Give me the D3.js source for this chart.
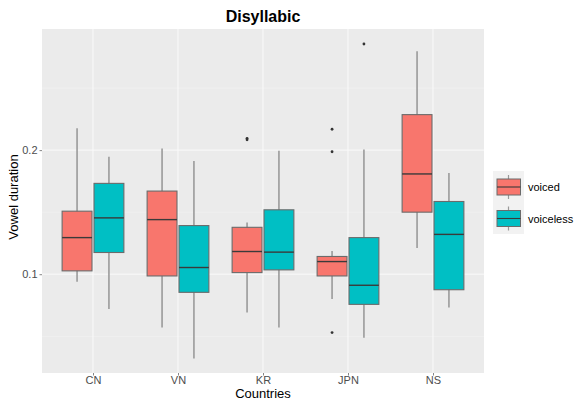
<!DOCTYPE html>
<html>
<head>
<meta charset="utf-8">
<script src="https://cdn.jsdelivr.net/npm/d3@7"></script>
<style>
  body { margin: 0; background: #fff; }
  text { font-family: "Liberation Sans", Arial, sans-serif; }
</style>
</head>
<body>
<div class="chart"></div>
<script>
// categories and groups
var countries = ["CN", "VN", "KR", "JPN", "NS"];
var groups = ["voiced", "voiceless"];
var colors = ["#F8766D", "#00BFC4"];

// box stats per country: [whiskerLow, q1, median, q3, whiskerHigh]
var voicedStats = [
  [0.094, 0.1027, 0.1295, 0.1508, 0.2176],
  [0.057, 0.0986, 0.144, 0.167, 0.2013],
  [0.0692, 0.1013, 0.1183, 0.1378, 0.1416],
  [0.080, 0.0986, 0.1102, 0.1143, 0.1187],
  [0.1211, 0.150, 0.1808, 0.2286, 0.2797]
];
var voicelessStats = [
  [0.0719, 0.1175, 0.1454, 0.1732, 0.1946],
  [0.0321, 0.0854, 0.1054, 0.1392, 0.1913],
  [0.057, 0.1035, 0.1178, 0.1519, 0.1995],
  [0.0489, 0.0757, 0.0911, 0.1295, 0.2005],
  [0.0732, 0.0875, 0.1321, 0.1586, 0.1816]
];
// outliers: [country, group, value]
var outliers = [
  ["KR", "voiced", 0.2095],
  ["KR", "voiced", 0.2083],
  ["JPN", "voiced", 0.2168],
  ["JPN", "voiced", 0.1987],
  ["JPN", "voiced", 0.053],
  ["JPN", "voiceless", 0.2855]
];
var yTicks = [0.1, 0.2];
var yMinor = [0.05, 0.15, 0.25];

var svgWidth = 574, svgHeight = 399;
var margin = { top: 29, left: 42, right: 90, bottom: 26 };
var width = svgWidth - margin.left - margin.right;   // 442
var height = svgHeight - margin.top - margin.bottom; // 344

var svg = d3.select(".chart").append("svg")
  .attr("width", svgWidth)
  .attr("height", svgHeight);

var chartGroup = svg.append("g")
  .attr("transform", `translate(${margin.left}, ${margin.top})`);

// ggplot discrete expand: 0.6 units on each side
var x = d3.scalePoint()
  .domain(countries)
  .range([0, width])
  .padding(0.6);
var unit = x.step();
var xc = function(c) { return x(c); };

var y = d3.scaleLinear()
  .domain([0.0204, 0.2976])
  .range([height, 0]);

// panel background
chartGroup.append("rect")
  .attr("width", width)
  .attr("height", height)
  .attr("fill", "#EBEBEB");

// minor grid
chartGroup.selectAll(".minor")
  .data(yMinor)
  .enter()
  .append("line")
  .attr("x1", 0).attr("x2", width)
  .attr("y1", d => y(d)).attr("y2", d => y(d))
  .attr("stroke", "#F3F3F3")
  .attr("stroke-width", 0.6);

// major grid
chartGroup.selectAll(".major")
  .data(yTicks)
  .enter()
  .append("line")
  .attr("x1", 0).attr("x2", width)
  .attr("y1", d => y(d)).attr("y2", d => y(d))
  .attr("stroke", "#fafafa")
  .attr("stroke-width", 1);

chartGroup.selectAll(".vgrid")
  .data(countries)
  .enter()
  .append("line")
  .attr("x1", d => xc(d)).attr("x2", d => xc(d))
  .attr("y1", 0).attr("y2", height)
  .attr("stroke", "#fafafa")
  .attr("stroke-width", 1);

// boxes
var boxW = unit * 0.75 / 2;
var allStats = [voicedStats, voicelessStats];
var boxData = [];
groups.forEach(function(g, gi) {
  countries.forEach(function(c, ci) {
    var s = allStats[gi][ci];
    boxData.push({ country: c, group: gi, lo: s[0], q1: s[1], med: s[2], q3: s[3], hi: s[4] });
  });
});
var cx = function(d) { return xc(d.country) + (d.group === 0 ? -boxW / 2 : boxW / 2); };

var boxes = chartGroup.selectAll(".box")
  .data(boxData)
  .enter()
  .append("g");

boxes.append("line")
  .attr("x1", cx).attr("x2", cx)
  .attr("y1", d => y(d.hi)).attr("y2", d => y(d.lo))
  .attr("stroke", "#9a9a9a")
  .attr("stroke-width", 1.6);

boxes.append("rect")
  .attr("x", d => cx(d) - boxW / 2 + 1)
  .attr("width", boxW - 2)
  .attr("y", d => y(d.q3))
  .attr("height", d => y(d.q1) - y(d.q3))
  .attr("fill", d => colors[d.group])
  .attr("stroke", "#6b6b6b")
  .attr("stroke-width", 1.1);

boxes.append("line")
  .attr("x1", d => cx(d) - boxW / 2 + 1)
  .attr("x2", d => cx(d) + boxW / 2 - 1)
  .attr("y1", d => y(d.med)).attr("y2", d => y(d.med))
  .attr("stroke", "#3a3a3a")
  .attr("stroke-width", 1.4);

// outliers
chartGroup.selectAll(".out")
  .data(outliers)
  .enter()
  .append("circle")
  .attr("cx", d => xc(d[0]) + (d[1] === "voiced" ? -boxW / 2 : boxW / 2))
  .attr("cy", d => y(d[2]))
  .attr("r", 1.4)
  .attr("fill", "#333");

// axes
var xAxis = d3.axisBottom(x).tickSize(2.5);
var yAxis = d3.axisLeft(y).tickValues(yTicks).tickFormat(d3.format(".1f"))
  .tickSize(2.5).tickPadding(2);

var gx = chartGroup.append("g")
  .attr("transform", `translate(0, ${height})`)
  .call(xAxis);
var gy = chartGroup.append("g").call(yAxis);

[gx, gy].forEach(function(g) {
  g.select(".domain").remove();
  g.selectAll(".tick line").attr("stroke", "#333").attr("stroke-width", 0.6);
  g.selectAll(".tick text")
    .attr("fill", "#4D4D4D")
    .style("font-size", "11px");
});
gx.selectAll(".tick text").attr("y", 11).attr("dy", 0);

// titles
svg.append("text")
  .attr("text-anchor", "middle")
  .attr("x", margin.left + width / 2)
  .attr("y", 22)
  .style("font-size", "16px")
  .style("font-weight", "bold")
  .text("Disyllabic");

svg.append("text")
  .attr("text-anchor", "middle")
  .attr("x", margin.left + width / 2)
  .attr("y", 397.5)
  .style("font-size", "13px")
  .text("Countries");

svg.append("text")
  .attr("text-anchor", "middle")
  .attr("transform", "translate(18," + (margin.top + height / 2 - 4) + ")rotate(-90)")
  .style("font-size", "13px")
  .text("Vowel duration");

// legend
var legend = svg.append("g").attr("transform", "translate(493, 171)");
legend.append("rect")
  .attr("width", 31).attr("height", 63)
  .attr("fill", "#F2F2F2");

var keys = legend.selectAll(".key")
  .data(groups)
  .enter()
  .append("g")
  .attr("transform", (d, i) => `translate(0, ${4 + i * 31.5})`);

keys.append("line")
  .attr("x1", 15.5).attr("x2", 15.5)
  .attr("y1", 0).attr("y2", 24)
  .attr("stroke", "#9a9a9a")
  .attr("stroke-width", 1.2);
keys.append("rect")
  .attr("x", 4).attr("y", 4)
  .attr("width", 23.5).attr("height", 16)
  .attr("fill", (d, i) => colors[i])
  .attr("stroke", "#6b6b6b")
  .attr("stroke-width", 1);
keys.append("line")
  .attr("x1", 4).attr("x2", 27.5)
  .attr("y1", 12).attr("y2", 12)
  .attr("stroke", "#3a3a3a")
  .attr("stroke-width", 1.1);
keys.append("text")
  .attr("x", 35)
  .attr("y", 16)
  .style("font-size", "11px")
  .text(d => d);
</script>
</body>
</html>
